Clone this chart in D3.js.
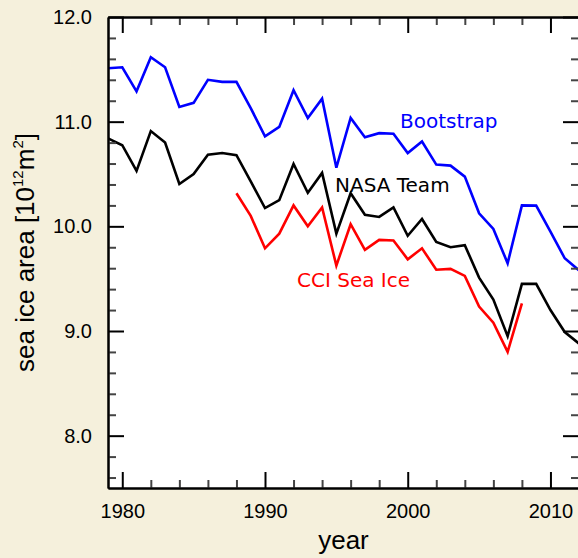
<!DOCTYPE html>
<html><head><meta charset="utf-8">
<script src="https://cdn.jsdelivr.net/npm/d3@7"></script>
<style>body{margin:0;background:#f5f0dc;}svg{display:block;}</style>
</head><body>
<svg id="c" width="578" height="558"></svg>
<script>
const years = d3.range(1979, 2013);
const bootstrap = [11.51,11.52,11.29,11.615,11.52,11.14,11.18,11.40,11.38,11.38,11.13,10.86,10.95,11.30,11.035,11.22,10.56,11.035,10.85,10.89,10.885,10.70,10.81,10.59,10.58,10.475,10.125,9.975,9.647,10.20,10.198,9.95,9.695,9.58];
const nasaTeam = [10.84,10.775,10.53,10.91,10.80,10.405,10.50,10.685,10.70,10.68,10.43,10.175,10.25,10.596,10.32,10.51,9.93,10.316,10.11,10.09,10.18,9.91,10.07,9.85,9.80,9.82,9.51,9.30,8.95,9.45,9.45,9.20,8.99,8.88];
const cciYears = d3.range(1988, 2009);
const cciSeaIce = [10.316,10.10,9.79,9.93,10.20,10.00,10.18,9.625,10.02,9.775,9.87,9.865,9.685,9.79,9.585,9.593,9.526,9.233,9.08,8.80,9.265];
const xMajor = [1980,1990,2000,2010];
const yMajor = [8,9,10,11,12];
const seriesLabels = ["Bootstrap","NASA Team","CCI Sea Ice"];

const svg = d3.select("#c");
const L=108, R=579, T=17, B=488;
svg.append("rect").attr("width",578).attr("height",558).attr("fill","#f5f0dc");
svg.append("rect").attr("x",L).attr("y",T).attr("width",R-L).attr("height",B-T).attr("fill","#fff");

const x = d3.scaleLinear().domain([1979,2012]).range([L,R]);
const y = d3.scaleLinear().domain([7.5,12]).range([B,T]);

const xMinor = d3.range(1980,2013,2).filter(d=>d%10!==0);
const yMinor = d3.range(38,60).filter(i=>i%5!==0).map(i=>i/5);

const defs = svg.append("defs");
defs.append("clipPath").attr("id","clip").append("rect").attr("x",L).attr("y",T).attr("width",R-L).attr("height",B-T);

const plot = svg.append("g").attr("clip-path","url(#clip)");
const line = (xs)=>d3.line().x((d,i)=>x(xs[i])).y(d=>y(d));
plot.append("path").datum(bootstrap).attr("d",line(years)).attr("fill","none").attr("stroke","#0000ff").attr("stroke-width",2.6).attr("stroke-linejoin","miter");
plot.append("path").datum(nasaTeam).attr("d",line(years)).attr("fill","none").attr("stroke","#000").attr("stroke-width",2.6);
plot.append("path").datum(cciSeaIce).attr("d",line(cciYears)).attr("fill","none").attr("stroke","#ff0000").attr("stroke-width",2.6);

function style(g, minor){
  g.select(".domain").attr("stroke","#000").attr("stroke-width",2);
  g.selectAll(".tick line").attr("stroke", minor?"#444":"#000").attr("stroke-width",2);
  g.selectAll(".tick text").attr("font-family","'Liberation Sans', Arial, sans-serif").attr("font-size",20).attr("fill","#000");
}
// minor axes
[[d3.axisBottom(x),`translate(0,${B})`],[d3.axisTop(x),`translate(0,${T})`]].forEach(([a,t])=>{
  svg.append("g").attr("transform",t).call(a.tickValues(xMinor).tickSize(-8).tickSizeOuter(0).tickFormat("")).call(g=>style(g,true));
});
[[d3.axisLeft(y),`translate(${L},0)`],[d3.axisRight(y),`translate(${R},0)`]].forEach(([a,t])=>{
  svg.append("g").attr("transform",t).call(a.tickValues(yMinor).tickSize(-8).tickSizeOuter(0).tickFormat("")).call(g=>style(g,true));
});
// major axes
svg.append("g").attr("transform",`translate(0,${B})`).call(d3.axisBottom(x).tickValues(xMajor).tickSize(-16).tickSizeOuter(0).tickPadding(16).tickFormat(d3.format("d"))).call(g=>style(g,false));
svg.append("g").attr("transform",`translate(0,${T})`).call(d3.axisTop(x).tickValues(xMajor).tickSize(-16).tickSizeOuter(0).tickFormat("")).call(g=>style(g,false));
svg.append("g").attr("transform",`translate(${L},0)`).call(d3.axisLeft(y).tickValues(yMajor).tickSize(-16).tickSizeOuter(0).tickPadding(16).tickFormat(d3.format(".1f"))).call(g=>style(g,false));
svg.append("g").attr("transform",`translate(${R},0)`).call(d3.axisRight(y).tickValues(yMajor).tickSize(-16).tickSizeOuter(0).tickFormat("")).call(g=>style(g,false));

// series labels
const lf = "'DejaVu Sans', sans-serif";
svg.append("text").attr("x",400).attr("y",128).attr("font-family",lf).attr("font-size",20).attr("fill","#0000ff").text(seriesLabels[0]);
svg.append("text").attr("x",335).attr("y",192).attr("font-family",lf).attr("font-size",20).attr("fill","#000").text(seriesLabels[1]);
svg.append("text").attr("x",297).attr("y",287).attr("font-family",lf).attr("font-size",20).attr("fill","#ff0000").text(seriesLabels[2]);

// axis titles
const af = "'Liberation Sans', Arial, sans-serif";
svg.append("text").attr("x",(L+R)/2).attr("y",549).attr("text-anchor","middle").attr("font-family",af).attr("font-size",26).text("year");
const yl = svg.append("text").attr("transform",`translate(34,${(T+B)/2}) rotate(-90)`).attr("text-anchor","middle").attr("font-family",af).attr("font-size",26);
yl.append("tspan").text("sea ice area [10");
yl.append("tspan").attr("font-size",15).attr("dy",-11).text("12");
yl.append("tspan").attr("dy",11).text("m");
yl.append("tspan").attr("font-size",15).attr("dy",-11).text("2");
yl.append("tspan").attr("dy",11).text("]");
</script>
</body></html>
